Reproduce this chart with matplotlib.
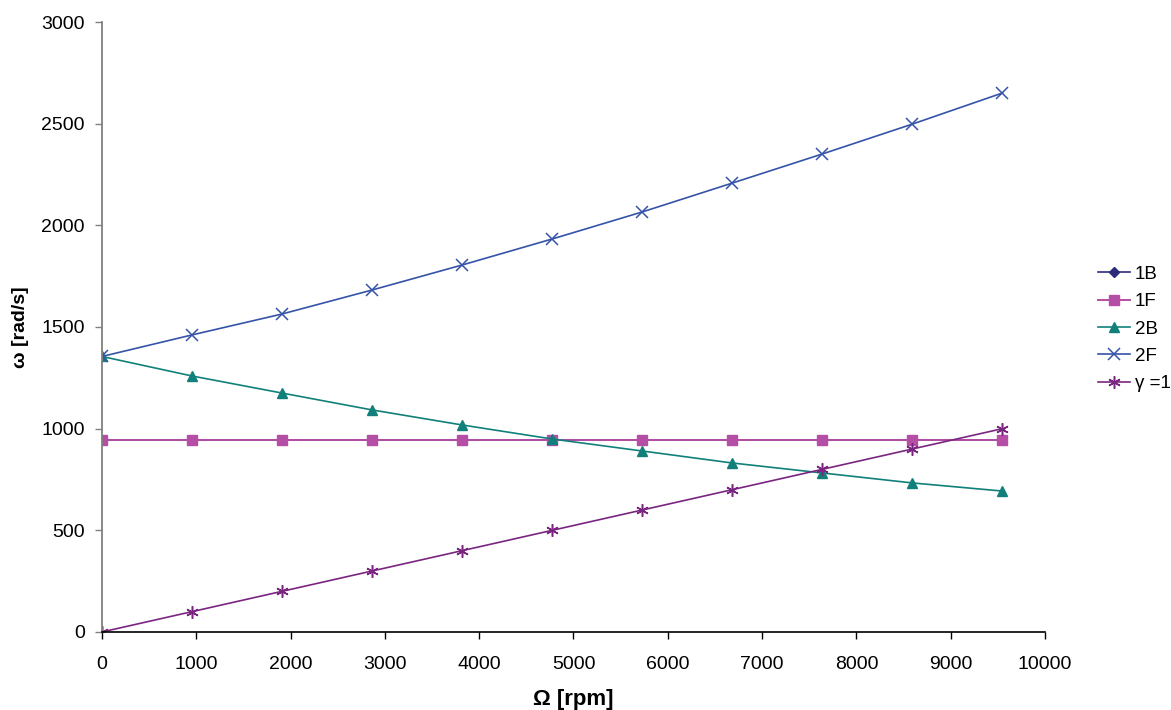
import matplotlib.pyplot as plt

plt.rcParams['font.family'] = ['Liberation Sans', 'DejaVu Sans']

# rotor speed (rpm), one point every 100 rad/s
speed = [0, 955, 1910, 2865, 3820, 4775, 5730, 6685, 7639, 8594, 9549]

w_1B = [942, 942, 942, 942, 942, 942, 942, 942, 942, 942, 942]
w_1F = [942, 942, 942, 942, 942, 942, 942, 942, 942, 942, 942]
w_2B = [1355, 1259, 1175, 1092, 1018, 949, 890, 831, 782, 733, 693]
w_2F = [1355, 1461, 1564, 1682, 1805, 1933, 2066, 2208, 2351, 2498, 2651]
w_g1 = [0, 100, 200, 300, 400, 500, 600, 700, 800, 900, 1000]

labels = ["1B", "1F", "2B", "2F", "γ =1"]

fig = plt.figure(figsize=(11.71, 7.10), dpi=100)
ax = fig.add_axes([0.0871, 0.1099, 0.8053, 0.8591])

ax.plot(speed, w_1B, color="#2b2b7a", marker="D", markersize=5.5, lw=1.2, label=labels[0])
ax.plot(speed, w_1F, color="#b44fa5", marker="s", markersize=7, lw=1.4, label=labels[1])
ax.plot(speed, w_2B, color="#11807a", marker="^", markersize=7.5, lw=1.2, label=labels[2])
ax.plot(speed, w_2F, color="#3553a8", marker="x", markersize=8, mew=1.1, lw=1.2, label=labels[3])
ax.plot(speed, w_g1, color="#7a2680", marker=(6, 2, 0), markersize=9, mew=1.1, lw=1.2, label=labels[4])

ax.set_xlim(0, 10000)
ax.set_ylim(0, 3000)
ax.set_xticks(range(0, 10001, 1000))
ax.set_yticks(range(0, 3001, 500))
ax.tick_params(labelsize=14, length=5, width=1, colors="#000000")
ax.tick_params(axis="x", pad=12)
ax.tick_params(axis="y", pad=7.5, color="#808080")

ax.spines["top"].set_visible(False)
ax.spines["right"].set_visible(False)
ax.spines["left"].set_color("#808080")
ax.spines["left"].set_linewidth(1.3)
ax.spines["bottom"].set_color("#000000")
ax.spines["bottom"].set_linewidth(1.2)

ax.set_xlabel("Ω [rpm]", fontsize=16, fontweight="bold", labelpad=12)
ax.set_ylabel("ω [rad/s]", fontsize=14, fontweight="bold", labelpad=9)

fig.legend(
    loc="upper left",
    bbox_to_anchor=(1090 / 1171, 1 - 258 / 710),
    frameon=False,
    fontsize=13.5,
    handlelength=1.75,
    handletextpad=0.25,
    labelspacing=0.55,
    borderaxespad=0,
)

fig.savefig("out.png", dpi=100)
